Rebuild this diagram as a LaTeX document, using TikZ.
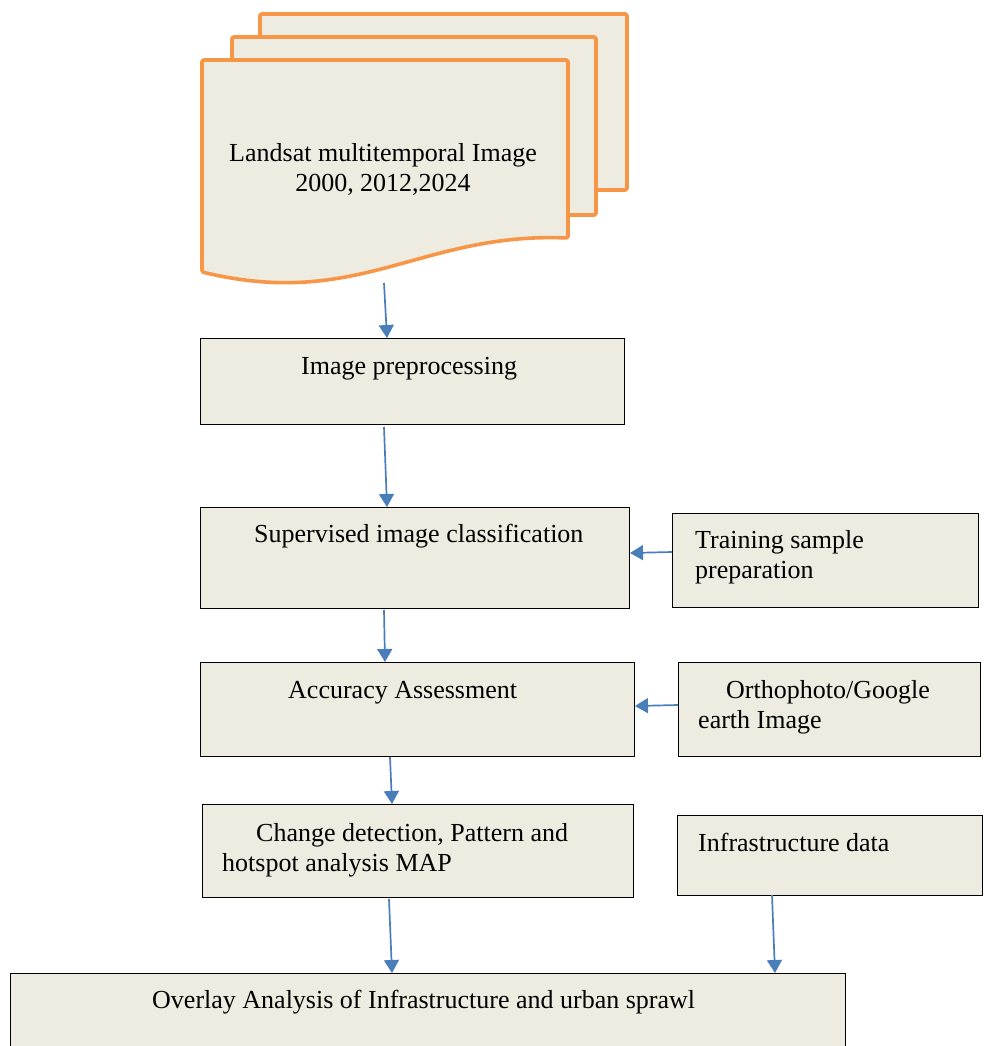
\documentclass[tikz,border=0pt]{standalone}
\usepackage{fontspec}
\setmainfont{Liberation Serif}
\usepackage{xcolor}
\usetikzlibrary{arrows.meta,positioning}
\definecolor{boxfill}{HTML}{EEECE1}
\definecolor{docorange}{HTML}{F79646}
\definecolor{arrowblue}{HTML}{4A7EBB}

\tikzset{
  box/.style={draw=black, fill=boxfill, line width=0.9pt, inner sep=0pt, outer sep=0pt, anchor=north west},
  docsheet/.style={draw=docorange, fill=boxfill, line width=3.6pt, line join=round, rounded corners=1.5pt},
  txt/.style={font=\fontsize{26}{30}\selectfont, inner sep=0pt, anchor=base west, align=left},
  flow/.style={draw=arrowblue, line width=1.7pt, -{Triangle[width=15pt,length=13pt]}}
}

\begin{document}
\begin{tikzpicture}[x=1pt, y=-1pt]
  \useasboundingbox (0,0) rectangle (983,1046);
  \clip (0,0) rectangle (983,1046);

  % stacked landsat images
  \draw[docsheet] (260,14) rectangle (627,190);
  \draw[docsheet] (232,37) rectangle (596,215);
  \draw[docsheet] (202,60) -- (568,60) -- (568,238)
    .. controls (420,232) and (360,310) .. (202,272) -- cycle;
  % two-line texts sit on the baseline of their last line
  \node[txt, anchor=base, align=center] (landsat) at (383,191) {Landsat multitemporal Image\\2000, 2012,2024};
  \coordinate (docbottom) at (384,283);

  % main chain
  \node[box, minimum width=424pt, minimum height=86pt] (prep) at (200,338) {};
  \node[box, minimum width=429pt, minimum height=101pt] (classif) at (200,507) {};
  \node[box, minimum width=434pt, minimum height=94pt] (accur) at (200,662) {};
  \node[box, minimum width=431pt, minimum height=93pt] (change) at (202,804) {};
  \node[box, minimum width=835pt, minimum height=110pt] (overlay) at (10,973) {};

  % side inputs
  \node[box, minimum width=306pt, minimum height=94pt] (training) at (672,513) {};
  \node[box, minimum width=302pt, minimum height=94pt] (ortho) at (678,662) {};
  \node[box, minimum width=305pt, minimum height=80pt] (infra) at (677,815) {};

  \node[txt] (preptext) at ([shift={(101,36)}]prep.north west) {Image preprocessing};
  \node[txt] (classiftext) at ([shift={(54,35)}]classif.north west) {Supervised image classification};
  \node[txt] (accurtext) at ([shift={(88,36)}]accur.north west) {Accuracy Assessment};
  \node[txt] (changetext) at ([shift={(20,67)}]change.north west) {\hspace*{34pt}Change detection, Pattern and\\hotspot analysis MAP};
  \node[txt] (overlaytext) at ([shift={(142,35)}]overlay.north west) {Overlay Analysis of Infrastructure and urban sprawl};
  \node[txt] (trainingtext) at ([shift={(23,65)}]training.north west) {Training sample\\preparation};
  \node[txt] (orthotext) at ([shift={(20,66)}]ortho.north west) {\hspace*{28pt}Orthophoto/Google\\earth Image};
  \node[txt] (infratext) at ([shift={(21,36)}]infra.north west) {Infrastructure data};

  \draw[flow] (docbottom) -- ([shift={(187,0)}]prep.north west);
  \draw[flow] ([shift={(184,3)}]prep.south west) -- ([shift={(187,0)}]classif.north west);
  \draw[flow] ([shift={(184,2)}]classif.south west) -- ([shift={(185,0)}]accur.north west);
  \draw[flow] ([shift={(190,1)}]accur.south west) -- ([shift={(190,0)}]change.north west);
  \draw[flow] ([shift={(187,2)}]change.south west) -- ([shift={(382,0)}]overlay.north west);
  \draw[flow] ([shift={(95,0)}]infra.south west) -- ([shift={(765,0)}]overlay.north west);
  \draw[flow] ([shift={(0,39)}]training.north west) -- ([shift={(1,46)}]classif.north east);
  \draw[flow] ([shift={(0,43)}]ortho.north west) -- ([shift={(1,44)}]accur.north east);
\end{tikzpicture}
\end{document}
